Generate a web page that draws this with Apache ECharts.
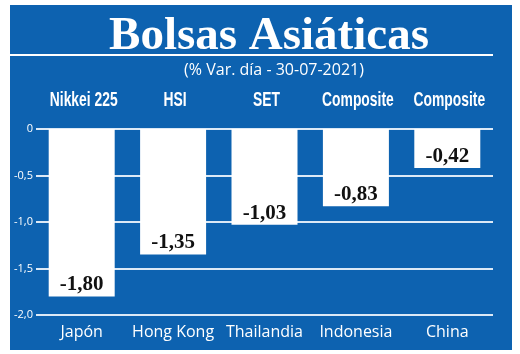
<!DOCTYPE html>
<html><head><meta charset="utf-8">
<script src="https://cdn.jsdelivr.net/npm/echarts@6/dist/echarts.min.js"></script>
<style>html,body{margin:0;padding:0;background:#fff}#c{width:520px;height:354px}</style>
</head><body><div id="c"></div>
<script>
const countries = ['Japón', 'Hong Kong', 'Thailandia', 'Indonesia', 'China'];
const indices = ['Nikkei 225', 'HSI', 'SET', 'Composite', 'Composite'];
const values = [-1.80, -1.35, -1.03, -0.83, -0.42];
const yTicks = [0, -0.5, -1.0, -1.5, -2.0];

const BLUE = '#0d62b0';
const chart = echarts.init(document.getElementById('c'));
const baseGraphic = [
  {type: 'rect', shape: {x: 10, y: 5, width: 502, height: 345}, style: {fill: BLUE}, z: -10},
  {type: 'rect', shape: {x: 10, y: 54, width: 483, height: 2}, style: {fill: '#ffffff'}, z: 10},
  {type: 'text', x: 269, y: 13, style: {text: 'Bolsas Asiáticas', x: 0, y: 0, align: 'center', fill: '#fff', font: 'bold 47px "Liberation Serif", serif'}, z: 10},
  {type: 'text', x: 274, y: 62, style: {text: '(% Var. día - 30-07-2021)', x: 0, y: 0, align: 'center', fill: '#fff', font: '16px "Open Sans", sans-serif'}, z: 10}
];
chart.setOption({
  backgroundColor: '#fff',
  animation: false,
  graphic: baseGraphic,
  grid: {left: 36, right: 27, top: 129, bottom: 39},
  xAxis: [
    {type: 'category', data: countries, position: 'bottom',
     axisLine: {show: false}, axisTick: {show: false},
     axisLabel: {interval: 0, color: '#fff', fontSize: 16, fontFamily: '"Open Sans", sans-serif', margin: 9}},
    {type: 'category', data: indices, position: 'top',
     axisLine: {show: false}, axisTick: {show: false},
     axisLabel: {show: false}}
  ],
  yAxis: {
    type: 'value', min: -2, max: 0, interval: 0.5,
    axisLine: {show: false}, axisTick: {show: false},
    splitLine: {lineStyle: {color: '#dce9f6', width: 2}},
    axisLabel: {color: '#fff', fontSize: 11, fontFamily: '"Open Sans", sans-serif', margin: 3,
      formatter: v => v === 0 ? '0' : v.toFixed(1).replace('.', ',')}
  },
  series: [{
    type: 'bar', data: values, barWidth: 66, xAxisIndex: 0,
    itemStyle: {color: '#ffffff'},
    label: {show: true, position: 'insideBottom', distance: 1, color: '#111',
      fontSize: 21, fontWeight: 'bold', fontFamily: '"Liberation Serif", serif',
      formatter: p => p.value.toFixed(2).replace('.', ',')}
  }]
});
// Condensed index names above the plot, positioned by the category axis
const topLabels = indices.map((name, i) => {
  const x = chart.convertToPixel({xAxisIndex: 1}, i) + 2;
  return {type: 'text', x: x, y: 100, scaleX: 0.66,
    style: {text: name, x: 0, y: 0, align: 'center', verticalAlign: 'middle', fill: '#fff',
      font: 'bold 21px "Liberation Sans", sans-serif'}, z: 10};
});
chart.setOption({graphic: baseGraphic.concat(topLabels)});
</script></body></html>
